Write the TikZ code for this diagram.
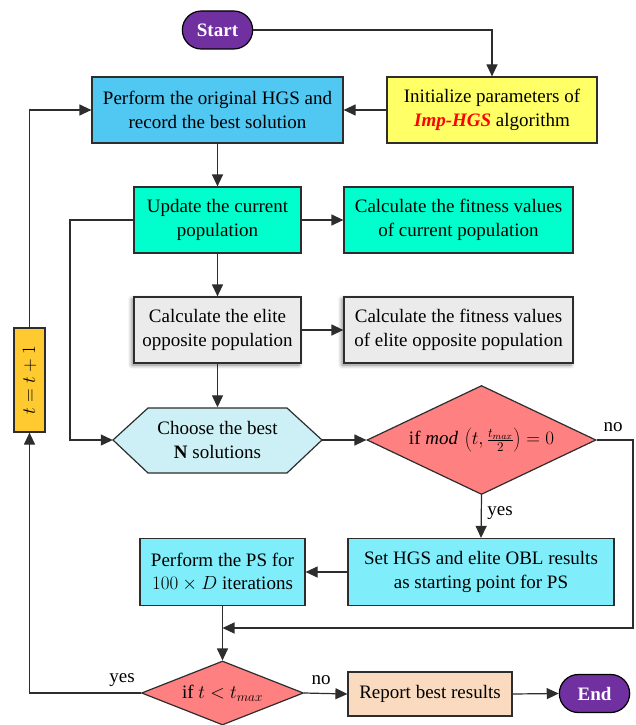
\RequirePackage{fix-cm}
\documentclass[tikz,border=0pt]{standalone}
\usepackage{fontspec}
\usepackage{graphicx}
\setmainfont{Liberation Serif}
\usetikzlibrary{shapes.geometric,shapes.misc,arrows.meta,shadows.blur}

\definecolor{cLine}{RGB}{45,45,45}
\definecolor{cTerm}{RGB}{112,48,160}
\definecolor{cPerf}{RGB}{80,200,242}
\definecolor{cInit}{RGB}{255,255,102}
\definecolor{cUpd}{RGB}{0,255,204}
\definecolor{cElite}{RGB}{235,235,235}
\definecolor{cHex}{RGB}{204,240,245}
\definecolor{cDia}{RGB}{255,128,128}
\definecolor{cPS}{RGB}{128,238,250}
\definecolor{cRep}{RGB}{251,219,192}
\definecolor{cInc}{RGB}{255,202,48}

\begin{document}
\begin{tikzpicture}[x=1pt,y=-1pt,
  every node/.style={font=\fontsize{19}{23.5}\selectfont, text=black},
  box/.style={draw=cLine, line width=1.2pt, rectangle, align=center, inner sep=2pt},
  term/.style={draw=black, line width=1.2pt, rounded rectangle, fill=cTerm,
    minimum width=77pt, minimum height=38pt, text=white, font=\fontsize{19}{23.5}\selectfont\bfseries},
  dec/.style={draw=cLine, line width=1.2pt, diamond, fill=cDia, inner sep=0pt},
  shade/.style={blur shadow={shadow xshift=-2pt, shadow yshift=-2pt, shadow blur radius=4pt, shadow opacity=50}},
  conn/.style={draw=cLine, line width=1.2pt, -{Triangle[length=12pt,width=11pt]}},
  lbl/.style={inner sep=0pt}
]
\useasboundingbox (0,0) rectangle (636,725);

% terminals
\node[term] (start) at (217.5,30) {Start};
\node[term] (end) at (594.5,693.5) {End};

% process boxes
\node[box, fill=cPerf, minimum width=251pt, minimum height=66pt] (perf) at (217.5,110)
  {Perform the original HGS and\\record the best solution};
\node[box, fill=cInit, minimum width=210pt, minimum height=66pt] (init) at (492,110)
  {Initialize parameters of\\{\color{red}\bfseries\itshape Imp-HGS} algorithm};
\node[box, fill=cUpd, minimum width=167pt, minimum height=66pt] (upd) at (217.5,220)
  {Update the current\\population};
\node[box, fill=cUpd, minimum width=229pt, minimum height=66pt] (fit) at (458.5,220)
  {Calculate the fitness values\\of current population};
\node[box, shade, fill=cElite, minimum width=167pt, minimum height=66pt] (elite) at (217.5,330)
  {Calculate the elite\\opposite population};
\node[box, shade, fill=cElite, minimum width=229pt, minimum height=66pt] (efit) at (458.5,330)
  {Calculate the fitness values\\of elite opposite population};

% hexagon for selecting the best solutions
\filldraw[draw=cLine, line width=1.2pt, fill=cHex]
  (113,440) -- (148,408) -- (287,408) -- (322,440) -- (287,473) -- (148,473) -- cycle;
\node[align=center, minimum width=209pt, minimum height=65pt, inner sep=0pt] (hex) at (217.5,440)
  {Choose the best\\\textbf{N} solutions};

% first decision
\node[dec, aspect=2.1, minimum width=229pt, minimum height=109pt] (d1) at (481.5,440)
  {if $\mathit{mod}\,\left(t,\frac{t_{max}}{2}\right)=0$};

\node[box, fill=cPS, minimum width=266pt, minimum height=67pt] (set) at (481,572)
  {Set HGS and elite OBL results\\as starting point for PS};
\node[box, fill=cPS, minimum width=165pt, minimum height=67pt] (ps) at (222.5,572)
  {Perform the PS for\\$100\times D$ iterations};

% second decision
\node[dec, aspect=2.5, minimum width=162pt, minimum height=64pt] (d2) at (222.5,693)
  {if $t<t_{max}$};
\node[box, fill=cRep, minimum width=164pt, minimum height=44pt] (rep) at (430,694)
  {Report best results};

% iteration counter
\node[box, fill=cInc, minimum width=31pt, minimum height=104pt, inner sep=0pt] (inc) at (29.5,380)
  {\rotatebox{90}{$t=t+1$}};

% routing points
\coordinate (ul) at (70,220);
\coordinate (nr) at (633,440);
\coordinate (nb) at (633,628);
\coordinate (mg) at (222.5,628);

% connectors
\draw[conn] (start.east) -| (init.north);
\draw[conn] (init.west) -- (perf.east);
\draw[conn] (perf.south) -- (upd.north);
\draw[conn] (upd.east) -- (fit.west);
\draw[conn] (upd.south) -- (elite.north);
\draw[conn] (elite.east) -- (efit.west);
\draw[conn] (elite.south) -- (hex.north);
\draw[conn] (upd.west) -- (ul) |- (hex.west);
\draw[conn] (hex.east) -- (d1.west);
\draw[conn] (d1.south) -- (set.north);
\draw[conn] (set.west) -- (ps.east);
\draw[conn] (d1.east) -- (nr) -- (nb) -- (mg);
\draw[conn] (ps.south) -- (d2.north);
\draw[conn] (d2.east) -- (rep.west);
\draw[conn] (rep.east) -- (end.west);
\draw[conn] (d2.west) -| (inc.south);
\draw[conn] (inc.north) |- (perf.west);

% branch labels
\node[lbl] at (613,427) {no};
\node[lbl] at (500,513) {yes};
\node[lbl] at (122,680) {yes};
\node[lbl] at (321,680) {no};
\end{tikzpicture}
\end{document}
